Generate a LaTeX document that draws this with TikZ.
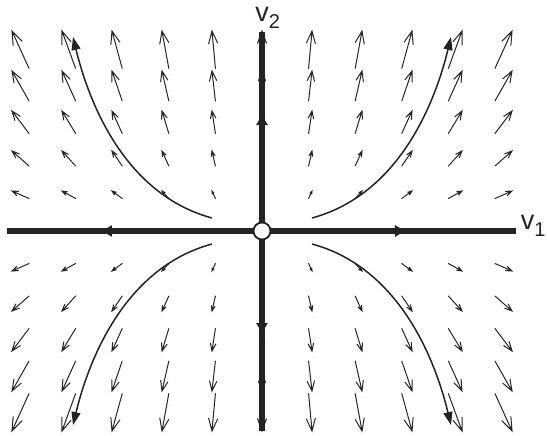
\documentclass[tikz,border=0pt]{standalone}
\usepackage{fontspec}
\setmainfont{Liberation Sans}
\usetikzlibrary{arrows.meta,decorations.markings}
\definecolor{inkgray}{RGB}{35,35,35}
\newcommand{\axlab}[1]{v\raisebox{-0.45ex}{\fontsize{10}{11}\selectfont #1}}
\tikzset{
  axisline/.style={line width=3pt,inkgray},
  amark/.style={postaction={decorate},decoration={markings,mark=at position #1 with {\arrow{Triangle[length=5pt,width=5.5pt]}}}},
  traj/.style={line width=0.75pt,inkgray,-{Triangle[length=6.5pt,width=4.5pt]}},
  qv/.style={line width=0.5pt,black!85,line cap=round},
  orig/.style={circle,draw=inkgray,fill=white,line width=0.9pt,minimum size=8.5pt,inner sep=0pt},
  alab/.style={font=\fontsize{13.5}{15}\selectfont,inner sep=0pt,text=inkgray},
  every picture/.style={x=0.5pt,y=0.5pt}
}
\begin{document}
\begin{tikzpicture}
  \useasboundingbox (-262,-204) rectangle (285,231);
  \foreach \i in {-5,...,5}{\foreach \j in {-5,...,5}{
    \pgfmathsetmacro\dx{3.4*\i} \pgfmathsetmacro\dy{7.48*\j}
    \draw[qv] ({50*\i-\dx},{40*\j-\dy}) -- ({50*\i},{40*\j})
      ({50*\i-0.33*\dx-0.12*\dy},{40*\j-0.33*\dy+0.12*\dx}) -- ({50*\i},{40*\j})
      -- ({50*\i-0.33*\dx+0.12*\dy},{40*\j-0.33*\dy-0.12*\dx});
  }}
  \coordinate (O) at (0,0);
  \coordinate (xl) at (-255,0); \coordinate (xr) at (254,0);
  \coordinate (yt) at (0,199); \coordinate (yb) at (0,-200);
  \draw[axisline,amark=80pt] (O) -- (xl); \draw[axisline,amark=71.5pt] (O) -- (xr);
  \draw[axisline,amark=58pt] (O) -- (yt); \draw[axisline,amark=51pt] (O) -- (yb);
  \foreach \sx/\sy in {1/1,-1/1,1/-1,-1/-1}
    \draw[traj] ({50*\sx},{13*\sy}) .. controls ({135*\sx},{36*\sy}) and ({172*\sx},{124*\sy}) .. ({189*\sx},{194*\sy});
  \node[orig] (o) at (O) {};
  \node[alab,anchor=east] (v1lab) at (284,5) {\axlab{1}};
  \node[alab,anchor=west] (v2lab) at (-7,213) {\axlab{2}};
\end{tikzpicture}
\end{document}
